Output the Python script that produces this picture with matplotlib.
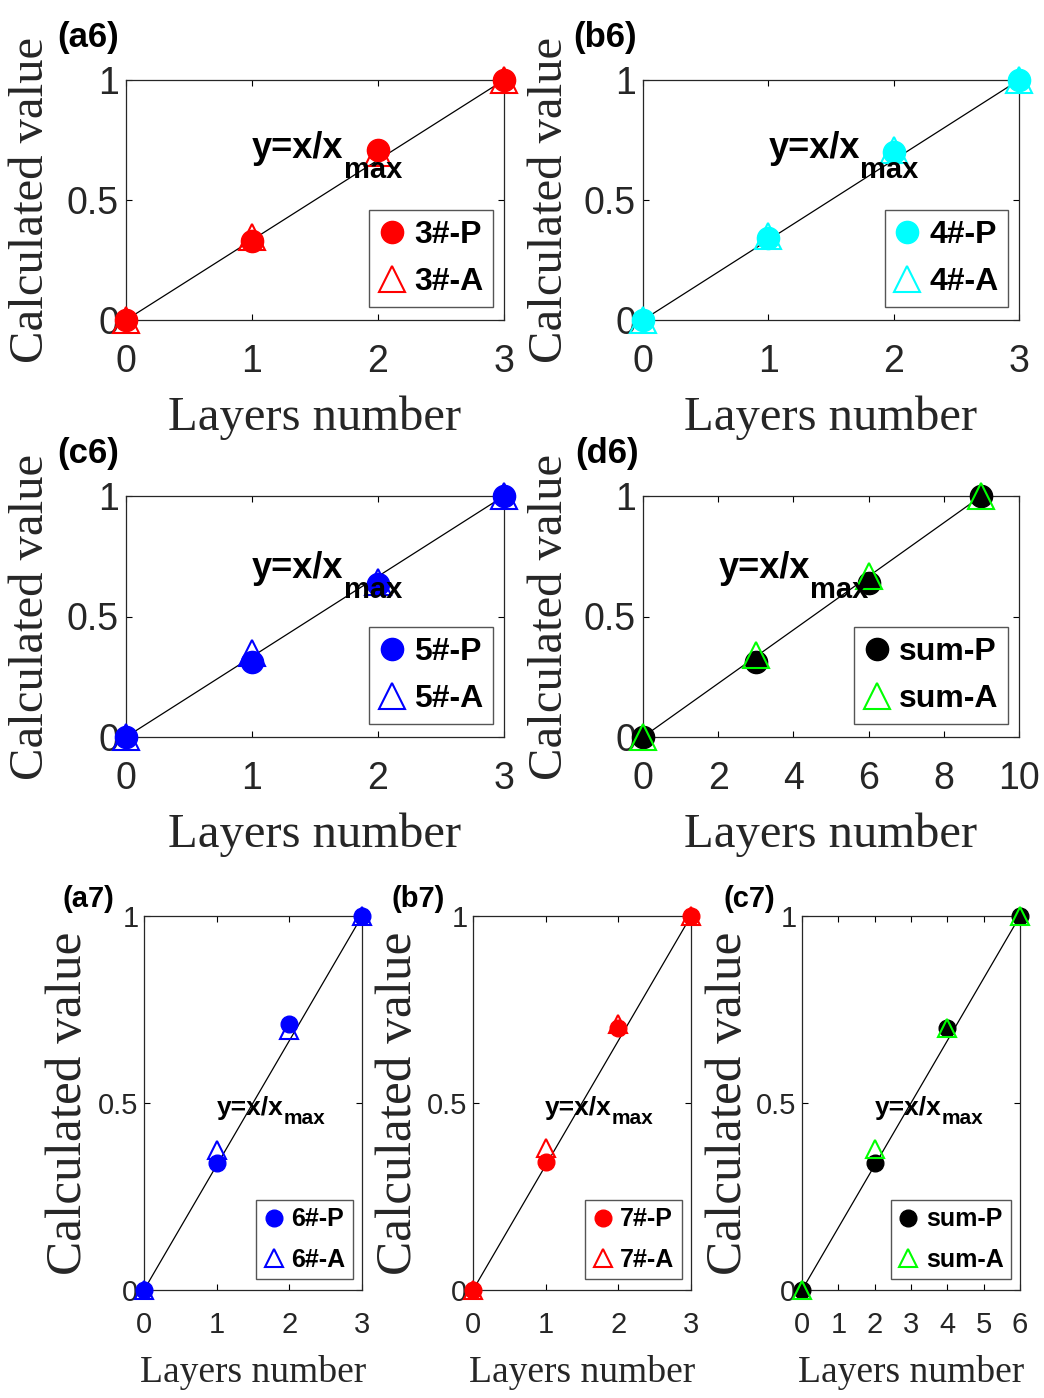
import matplotlib
matplotlib.use("Agg")
import matplotlib.pyplot as plt

# ---------------- data ----------------
x_a6 = [0, 1, 2, 3]
p_a6 = [0, 0.33, 0.71, 1.0]
a_a6 = [0, 0.345, 0.695, 1.0]

x_b6 = [0, 1, 2, 3]
p_b6 = [0, 0.34, 0.70, 1.0]
a_b6 = [0, 0.35, 0.71, 1.0]

x_c6 = [0, 1, 2, 3]
p_c6 = [0, 0.31, 0.635, 1.0]
a_c6 = [0, 0.35, 0.645, 1.0]

x_d6 = [0, 3, 6, 9]
p_d6 = [0, 0.31, 0.64, 1.0]
a_d6 = [0, 0.34, 0.67, 1.0]

x_a7 = [0, 1, 2, 3]
p_a7 = [0, 0.34, 0.71, 1.0]
a_a7 = [0, 0.375, 0.695, 1.0]

x_b7 = [0, 1, 2, 3]
p_b7 = [0, 0.342, 0.70, 1.0]
a_b7 = [0, 0.38, 0.71, 1.0]

x_c7 = [0, 2, 4, 6]
p_c7 = [0, 0.34, 0.70, 1.0]
a_c7 = [0, 0.377, 0.70, 1.0]

labels_P = ["3#-P", "4#-P", "5#-P", "sum-P", "6#-P", "7#-P", "sum-P"]
labels_A = ["3#-A", "4#-A", "5#-A", "sum-A", "6#-A", "7#-A", "sum-A"]
panel_names = ["(a6)", "(b6)", "(c6)", "(d6)", "(a7)", "(b7)", "(c7)"]
xlims = [3, 3, 3, 10, 3, 3, 6]
xticks_list = [[0, 1, 2, 3], [0, 1, 2, 3], [0, 1, 2, 3], [0, 2, 4, 6, 8, 10],
               [0, 1, 2, 3], [0, 1, 2, 3], [0, 1, 2, 3, 4, 5, 6]]
yticks = [0, 0.5, 1]
ytick_labels = ["0", "0.5", "1"]
xlabel_text = "Layers number"
ylabel_text = "Calculated value"

# ---------------- style ----------------
SANS = "Liberation Sans"
SERIF = "Liberation Serif"
W, H = 1044, 1398
fig = plt.figure(figsize=(W / 100, H / 100), dpi=100)

def px_axes(l, t, r, b):
    return [l / W, (H - b) / H, (r - l) / W, (b - t) / H]

panels = [
    dict(x=x_a6, p=p_a6, a=a_a6, pc="red", ac="red", box=(126, 80, 504, 320), big=True,
         ylx=-0.22, plx=-0.183, ply=1.177, tx=1.0, ty=0.675),
    dict(x=x_b6, p=p_b6, a=a_b6, pc="cyan", ac="cyan", box=(643, 80, 1019, 320), big=True,
         ylx=-0.215, plx=-0.186, ply=1.177, tx=1.0, ty=0.675),
    dict(x=x_c6, p=p_c6, a=a_c6, pc="blue", ac="blue", box=(126, 496, 504, 737), big=True,
         ylx=-0.22, plx=-0.183, ply=1.178, tx=1.0, ty=0.66),
    dict(x=x_d6, p=p_d6, a=a_d6, pc="black", ac="lime", box=(643, 496, 1019, 737), big=True,
         ylx=-0.215, plx=-0.181, ply=1.178, tx=2.02, ty=0.66),
    dict(x=x_a7, p=p_a7, a=a_a7, pc="blue", ac="blue", box=(144, 916, 362, 1290), big=False,
         ylx=-0.289, plx=-0.376, ply=1.045, tx=1.0, ty=0.468),
    dict(x=x_b7, p=p_b7, a=a_b7, pc="red", ac="red", box=(473, 916, 691, 1290), big=False,
         ylx=-0.284, plx=-0.372, ply=1.045, tx=0.99, ty=0.468),
    dict(x=x_c7, p=p_c7, a=a_c7, pc="black", ac="lime", box=(802, 916, 1020, 1290), big=False,
         ylx=-0.28, plx=-0.362, ply=1.045, tx=2.0, ty=0.468),
]

for i, pn in enumerate(panels):
    big = pn["big"]
    ax = fig.add_axes(px_axes(*pn["box"]))
    tick_fs = 27 if big else 21
    lab_fs = 35 if big else 27
    ylab_fs = 35 if big else 37
    pan_fs = 25 if big else 21
    eq_fs = 26 if big else 19
    sub_fs = 21 if big else 15
    leg_fs = 23 if big else 18
    ms_o = 16 if big else 12
    ms_t = 19 if big else 13.5

    xs = pn["x"]
    xmax = max(xs)
    ax.plot([0, xmax], [0, 1], color="black", lw=0.9, zorder=2)
    ax.plot(xs, pn["p"], linestyle="none", marker="o", ms=ms_o, color=pn["pc"],
            label=labels_P[i], clip_on=False, zorder=3)
    ax.plot(xs, pn["a"], linestyle="none", marker="^", ms=ms_t, mfc="none",
            mec=pn["ac"], mew=1.5, label=labels_A[i], clip_on=False, zorder=4)

    ax.set_xlim(0, xlims[i])
    ax.set_ylim(0, 1)
    ax.set_xticks(xticks_list[i])
    ax.set_xticklabels([str(v) for v in xticks_list[i]], fontfamily=SANS, fontsize=tick_fs)
    ax.set_yticks(yticks)
    ax.set_yticklabels(ytick_labels, fontfamily=SANS, fontsize=tick_fs)
    ax.tick_params(direction="in", length=4, width=0.8, top=True, right=True,
                   colors="black", labelcolor="#262626")
    ax.tick_params(axis="x", pad=17 if big else 15)
    ax.tick_params(axis="y", pad=5 if big else 4)
    for s in ax.spines.values():
        s.set_linewidth(0.9)
        s.set_color("#262626")

    # axis labels
    ax.set_xlabel(xlabel_text, fontfamily=SERIF, fontsize=lab_fs, color="#262626")
    ax.xaxis.label.set_verticalalignment("baseline")
    ax.xaxis.set_label_coords(0.5, -0.458 if big else -0.246)
    ax.set_ylabel(ylabel_text, fontfamily=SERIF, fontsize=ylab_fs, color="#262626")
    ax.yaxis.label.set_rotation_mode("anchor")
    ax.yaxis.label.set_verticalalignment("baseline")
    ax.yaxis.label.set_horizontalalignment("center")
    ax.yaxis.set_label_coords(pn["ylx"], 0.5)

    # panel label
    ax.text(pn["plx"], pn["ply"], panel_names[i], transform=ax.transAxes,
            fontfamily=SANS, fontweight="bold", fontsize=pan_fs, ha="left", va="center")

    # equation text
    t = ax.text(pn["tx"], pn["ty"], "y=x/x", fontfamily=SANS, fontweight="bold",
                fontsize=eq_fs, ha="left", va="baseline", zorder=5)
    ax.annotate("max", xy=(1, 0), xycoords=t, xytext=(0, -9 if big else -3),
                textcoords="offset points", fontfamily=SANS, fontweight="bold",
                fontsize=sub_fs, ha="left", va="baseline", zorder=5)

    # legend
    anchor = (0.971, 0.054) if big else (0.959, 0.029)
    leg = ax.legend(loc="lower right", bbox_to_anchor=anchor, frameon=True,
                    fancybox=False, framealpha=1, edgecolor="#555555",
                    prop=dict(family=SANS, weight="bold", size=leg_fs),
                    handlelength=0.8, handletextpad=0.3, borderpad=0.3,
                    labelspacing=0.55 if big else 0.65, borderaxespad=0)
    leg.get_frame().set_linewidth(1.0)
    leg.set_zorder(6)

fig.savefig("out.png", dpi=100)
